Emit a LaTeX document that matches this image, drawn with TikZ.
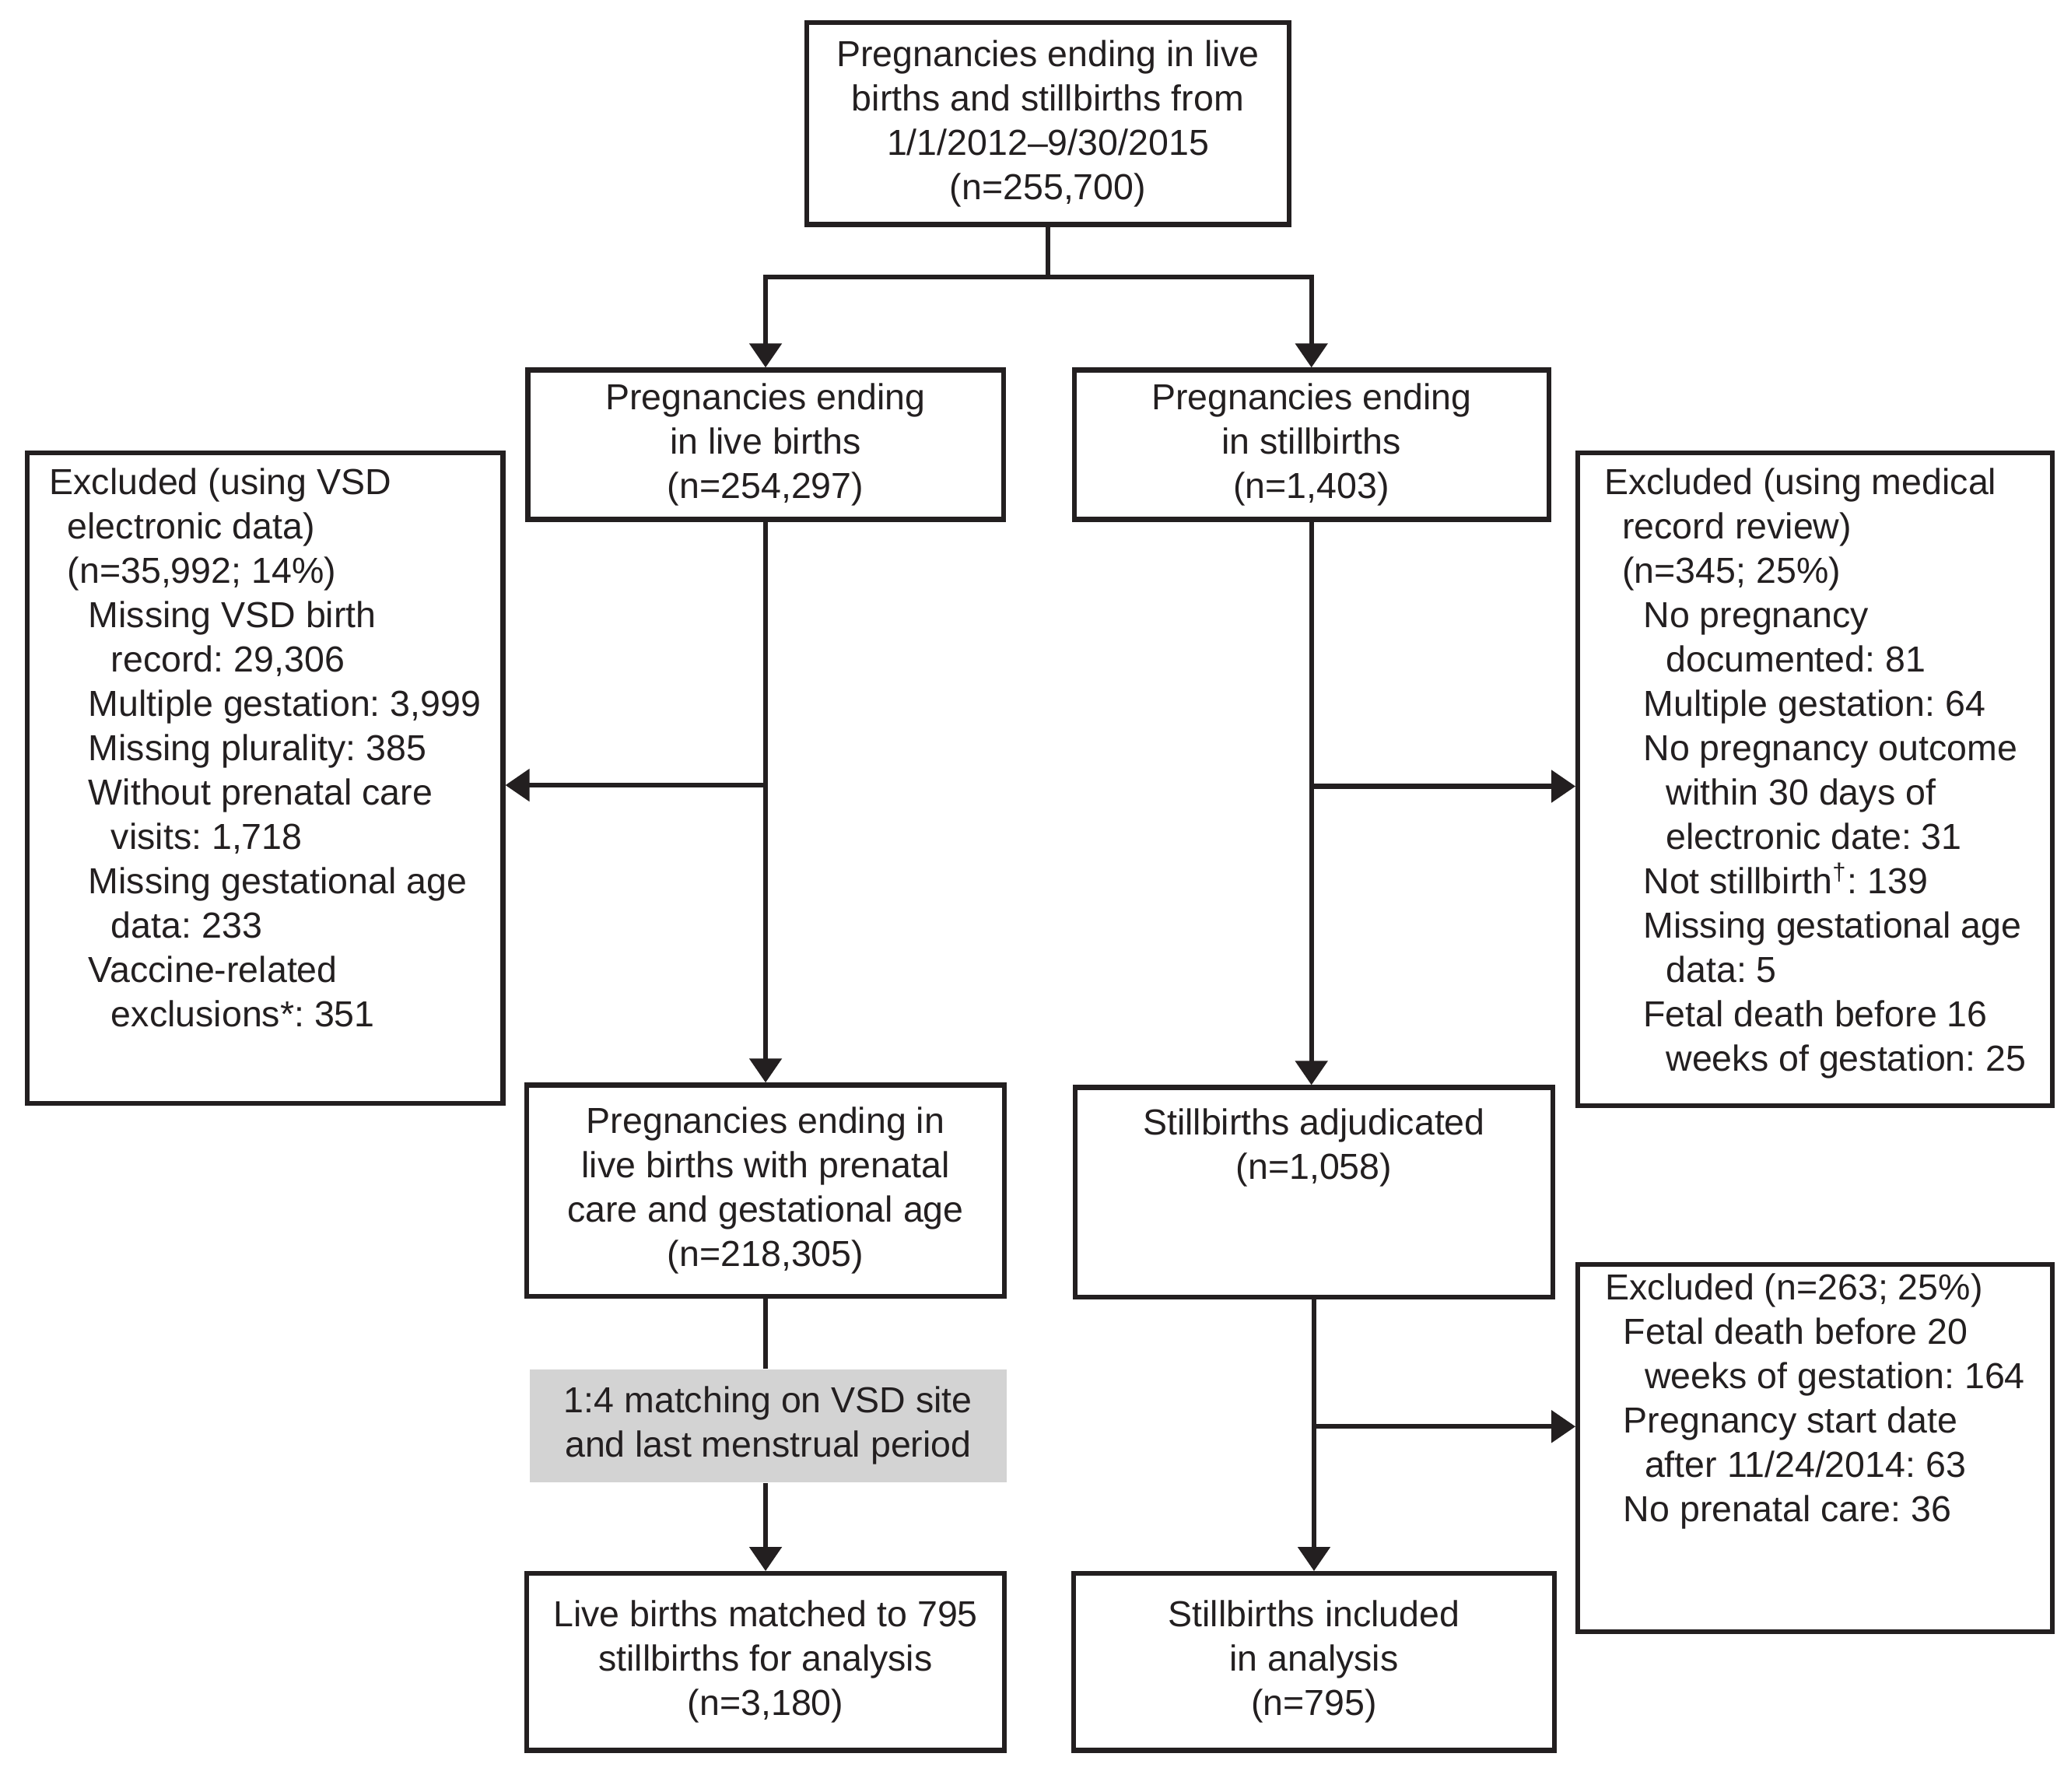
\documentclass[tikz,border=0pt]{standalone}
\usepackage{fontspec}
\setmainfont{Liberation Sans}
\usetikzlibrary{arrows.meta}
\definecolor{ink}{HTML}{231F20}
\definecolor{matchgray}{HTML}{D3D3D3}
\newcommand{\indA}{\hspace*{6pt}}
\newcommand{\indB}{\hspace*{13pt}}
\newcommand{\indC}{\hspace*{20.5pt}}
\frenchspacing

\begin{document}
\begin{tikzpicture}[font=\fontsize{12}{14.7}\selectfont,box/.style={draw=ink,line width=1.6pt,text=ink,align=center,inner sep=4pt},excl/.style={draw=ink,line width=1.6pt,text=ink,align=left,anchor=north,inner xsep=4pt,inner ysep=5pt},matchbox/.style={fill=matchgray,text=ink,align=center,minimum width=5.56cm,minimum height=1.32cm},link/.style={draw=ink,line width=1.6pt},arrow/.style={-{Triangle[length=8pt,width=10.5pt]},draw=ink,line width=1.6pt}]
\useasboundingbox (0,0) rectangle (24.13,-20.87);
\node[box,minimum width=5.62cm,minimum height=2.35cm] (total) at (12.21,-1.44){Pregnancies ending in live\\births and stillbirths from\\1/1/2012--9/30/2015\\(n=255,700)};
\node[box,minimum width=5.54cm,minimum height=1.74cm] (live) at (8.92,-5.18){Pregnancies ending\\in live births\\(n=254,297)};
\node[box,minimum width=5.53cm,minimum height=1.74cm] (still) at (15.28,-5.18){Pregnancies ending\\in stillbirths\\(n=1,403)};
\node[excl,minimum width=5.54cm,text depth=0.72cm] (exlive) at (3.09,-5.25){Excluded (using VSD\\\indA electronic data)\\\indA (n=35,992; 14\%)\\\indB Missing VSD birth\\\indC record: 29,306\\\indB Multiple gestation: 3,999\\\indB Missing plurality: 385\\\indB Without prenatal care\\\indC visits: 1,718\\\indB Missing gestational age\\\indC data: 233\\\indB Vaccine-related\\\indC exclusions*: 351};
\node[excl,minimum width=5.53cm,text depth=0.23cm] (exstill) at (21.15,-5.25){Excluded (using medical\\\indA record review)\\\indA (n=345; 25\%)\\\indB No pregnancy\\\indC documented: 81\\\indB Multiple gestation: 64\\\indB No pregnancy outcome\\\indC within 30 days of\\\indC electronic date: 31\\\indB Not stillbirth\textsuperscript{\textdagger}: 139\\\indB Missing gestational age\\\indC data: 5\\\indB Fetal death before 16\\\indC weeks of gestation: 25};
\node[box,minimum width=5.56cm,minimum height=2.46cm] (prenatal) at (8.92,-13.87){Pregnancies ending in\\live births with prenatal\\care and gestational age\\(n=218,305)};
\node[excl,align=center,minimum width=5.56cm,inner ysep=7pt,text depth=1.13cm] (adjud) at (15.31,-12.64){Stillbirths adjudicated\\(n=1,058)};
\node[excl,minimum width=5.53cm,inner ysep=3pt,text depth=1.18cm] (exadj) at (21.15,-14.70){Excluded (n=263; 25\%)\\\indA Fetal death before 20\\\indB weeks of gestation: 164\\\indA Pregnancy start date\\\indB after 11/24/2014: 63\\\indA No prenatal care: 36};
\node[matchbox] (matching) at (8.95,-16.61){1:4 matching on VSD site\\and last menstrual period};
\node[box,minimum width=5.56cm,minimum height=2.06cm] (matched) at (8.92,-19.36){Live births matched to 795\\stillbirths for analysis\\(n=3,180)};
\node[box,minimum width=5.60cm,minimum height=2.06cm] (included) at (15.31,-19.36){Stillbirths included\\in analysis\\(n=795)};
% split of the cohort
\draw[link] (total.south) -- ++(0,-0.585) coordinate (split);
\draw[arrow] (split) -| (live.north);\draw[arrow] (split) -| (still.north);
% exclusions
\path ([yshift=-0.08cm]exlive.east) coordinate (exlivein);
\path ([yshift=-0.08cm]exstill.west) coordinate (exstillin);
\path ([yshift=0.25cm]exadj.west) coordinate (exadjin);
\draw[arrow] (live.south) -- (prenatal.north);\draw[arrow] (live.south |- exlivein) -- (exlivein);
\draw[arrow] (still.south) -- (still.south |- adjud.north);\draw[arrow] (still.south |- exstillin) -- (exstillin);
\draw[link] (prenatal.south) -- (prenatal.south |- matching.north);
\draw[arrow] (matching.south -| matched.north) -- (matched.north);
\draw[arrow] (adjud.south) -- (included.north);\draw[arrow] (adjud.south |- exadjin) -- (exadjin);
\end{tikzpicture}
\end{document}
